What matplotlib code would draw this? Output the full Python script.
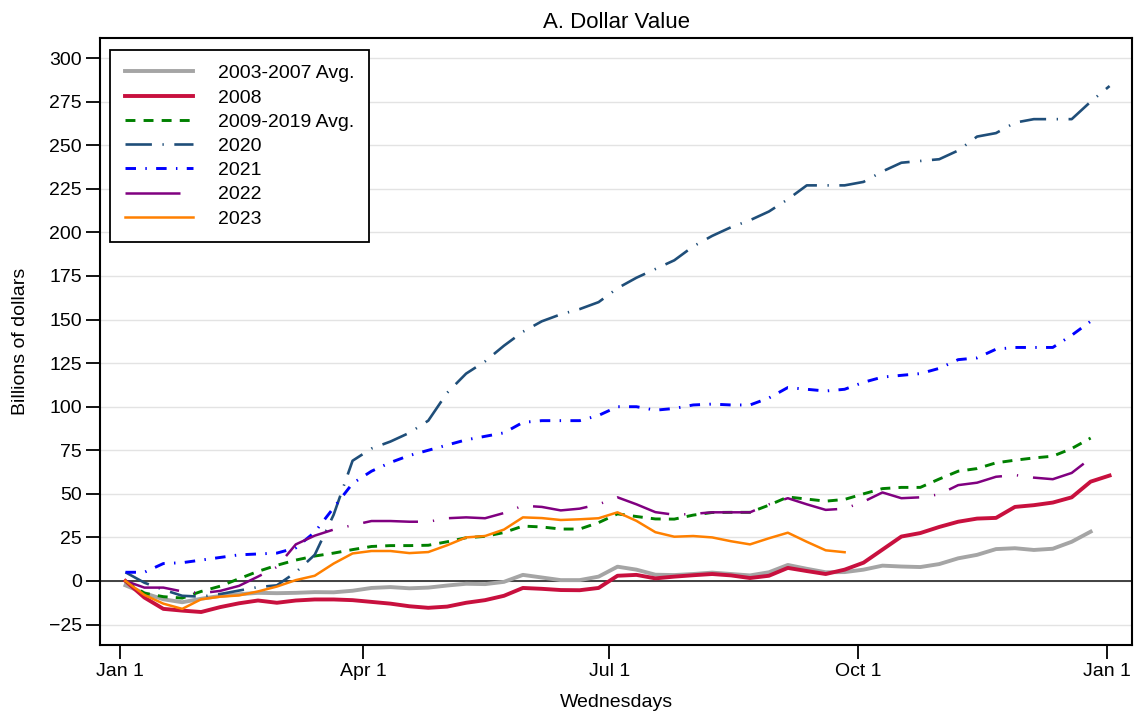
import numpy as np
import matplotlib
matplotlib.use("Agg")
import matplotlib.pyplot as plt

plt.rcParams['font.family'] = ['Liberation Sans', 'DejaVu Sans']

# weekly points (Wednesdays), day of year of each point
weeks = np.arange(53)
days = 2 + 7 * weeks

avg_03_07 = [-2.5, -7, -10.5, -12.2, -10.2, -8.6, -7.6, -6.8, -7, -6.8, -6.4, -6.5, -5.6,
             -4, -3.5, -4.2, -3.8, -2.6, -1.6, -1.8, -0.5, 3.5, 2, 0.5, 0.5, 2.5,
             8.2, 6.5, 3.6, 3.4, 4, 4.8, 4, 3.2, 5, 9.2, 7, 5, 5.1,
             6.5, 8.8, 8.3, 8, 9.7, 13, 15, 18.3, 18.8, 17.8, 18.5, 22.5, 28.3]
y2008 = [0, -9.5, -16, -17, -17.8, -15, -12.8, -11.2, -12.5, -11.2, -10.6, -10.6, -11,
         -12, -13, -14.5, -15.4, -14.7, -12.5, -11, -8.5, -4, -4.5, -5.2, -5.3, -4,
         3, 3.5, 1.5, 2.5, 3.3, 4, 3.2, 1.7, 3, 7.5, 5.7, 4, 6.5,
         10.5, 18, 25.5, 27.5, 31, 34, 35.8, 36.2, 42.5, 43.5, 45, 48, 57, 60.5]
avg_09_19 = [0, -7, -9, -9.8, -6, -3, 1.3, 5.5, 9, 12, 14.3, 16, 18,
             19.8, 20.3, 20.3, 20.5, 22.5, 24.8, 25.6, 27.8, 31.5, 31, 29.8, 29.8, 33.5,
             38.5, 37, 35.6, 35.5, 37.8, 39.3, 39.4, 39.4, 43.5, 48.2, 47, 45.8, 46.8,
             50, 53, 53.7, 53.7, 58.5, 63, 64.5, 67.8, 69.3, 70.6, 71.6, 76, 82]
y2020 = [5, -1, -5, -8.5, -9, -7.5, -5.5, -3.5, -2.5, 5, 15, 38, 69,
         76, 80, 85, 92, 108, 119, 126, 135, 143, 149, 153, 156, 160,
         168, 174, 179, 184, 192, 198, 203, 207, 212, 219, 227, 227, 227,
         229, 235, 240, 241, 242, 247, 255, 257, 263, 265, 265, 265, 275, 284]
y2021 = [5, 5, 10, 10.5, 12, 13.5, 15, 15.5, 16, 19, 28, 42, 56,
         63, 68, 72, 75, 78, 81, 83, 85, 91, 92, 92, 92, 95,
         100, 100, 98, 99, 101, 101.5, 101, 101, 105, 111, 110, 109, 110,
         114, 117, 118, 119, 122, 127, 128, 133, 134, 134, 134, 141, 149]
y2022 = [0, -3.8, -3.8, -6, -7, -5.7, -2.8, 2.5, 8, 21, 26, 29.5, 32,
         34.4, 34.4, 34, 34, 36, 36.5, 36, 39, 43.2, 42.5, 40.5, 41.5, 44,
         48, 44, 39.5, 38, 38.5, 39.4, 39.4, 39.4, 44, 47.5, 44, 40.8, 41.5,
         45.5, 50.8, 47.5, 48, 49.7, 55, 56.4, 59.8, 60.8, 59.3, 58.4, 62, 70.4]
y2023 = [0, -8, -13, -16, -10.5, -9, -8.3, -6, -3.2, 0.5, 3, 10, 15.8,
         17.2, 17.2, 16, 16.6, 20.5, 25, 25.8, 29.5, 36.5, 36.1, 35, 35.4, 36,
         39.4, 34.5, 28, 25.4, 25.8, 25, 22.8, 21, 24.5, 27.7, 22.5, 17.6, 16.5]

tick_days = [0, 90, 181, 273, 365]
tick_labels = ['Jan 1', 'Apr 1', 'Jul 1', 'Oct 1', 'Jan 1']

fig = plt.figure(figsize=(11.37, 7.19), dpi=100)
ax = fig.add_axes([0.088, 0.103, 0.9076, 0.844])

ax.axhline(0, color='#333333', lw=1.3, zorder=1)

ax.plot(days[:len(avg_03_07)], avg_03_07, color='#A5A5A5', lw=2.8, label='2003-2007 Avg.')
ax.plot(days[:len(y2008)], y2008, color='#C8103E', lw=2.8, label='2008')
ax.plot(days[:len(avg_09_19)], avg_09_19, color='#008000', lw=2.1,
        linestyle=(0, (3.4, 2.8)), label='2009-2019 Avg.')
ax.plot(days[:len(y2020)], y2020, color='#1F4E79', lw=1.9,
        linestyle=(0, (10, 4, 0.5, 4)), label='2020')
ax.plot(days[:len(y2021)], y2021, color='#0000FF', lw=2.1,
        linestyle=(0, (3.6, 3.2, 0.5, 3.2)), label='2021')
ax.plot(days[:len(y2022)], y2022, color='#800080', lw=1.8,
        linestyle=(0, (22, 6, 0.5, 6)), label='2022')
ax.plot(days[:len(y2023)], y2023, color='#FF8000', lw=1.8, label='2023')

ax.set_xlim(-7.4, 374.3)
ax.set_ylim(-36.7, 311.5)
ax.set_yticks(np.arange(-25, 301, 25))
ax.set_xticks(tick_days)
ax.set_xticklabels(tick_labels)
ax.grid(axis='y', color='#E3E3E3', lw=1.0, zorder=0)
ax.set_axisbelow(True)
ax.tick_params(axis='both', direction='out', length=10, width=1.3, labelsize=14, pad=3)
for s in ax.spines.values():
    s.set_linewidth(1.5)

ax.set_title('A. Dollar Value', fontsize=16, pad=7)
ax.set_ylabel('Billions of dollars', fontsize=14, labelpad=14)
ax.set_xlabel('Wednesdays', fontsize=14, labelpad=10)

leg = ax.legend(loc='upper left', bbox_to_anchor=(10 / 1032, 1 - 12 / 607), borderaxespad=0,
                fontsize=14, handlelength=3.5, handletextpad=1.3, labelspacing=0.34,
                fancybox=False, framealpha=1, edgecolor='black', borderpad=0.75)
leg.get_frame().set_linewidth(1.3)

fig.savefig('out.png', dpi=100)
